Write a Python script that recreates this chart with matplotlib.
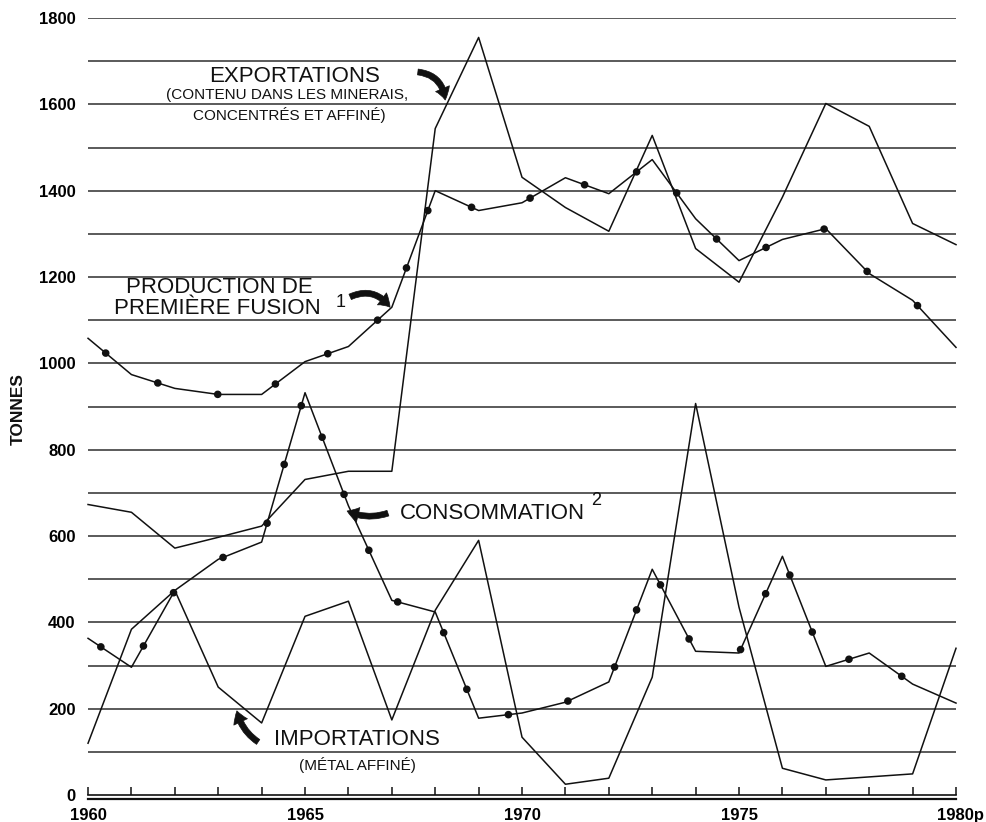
import matplotlib
matplotlib.use("Agg")
import matplotlib.pyplot as plt
import matplotlib.transforms as mtransforms

# Annual values, tonnes
years = list(range(1960, 1981))
exportations = [673, 655, 572, 597, 623, 731, 750, 750, 1544, 1755, 1431,
                1361, 1306, 1528, 1266, 1188, 1385, 1602, 1549, 1324, 1275]
production = [1058, 974, 942, 928, 928, 1004, 1039, 1130, 1400, 1354, 1372,
              1430, 1393, 1472, 1335, 1238, 1287, 1312, 1208, 1146, 1037]
consommation = [363, 296, 474, 546, 586, 932, 670, 451, 424, 178, 190,
                215, 262, 523, 333, 329, 553, 298, 329, 257, 213]
importations = [120, 384, 474, 250, 167, 414, 449, 174, 428, 590, 134,
                25, 39, 273, 907, 435, 62, 35, 42, 49, 340]

xtick_years = [1960, 1965, 1970, 1975, 1980]
xtick_labels = ["1960", "1965", "1970", "1975", "1980p"]
ytick_values = list(range(0, 1801, 200))
grid_values = list(range(100, 1801, 100))

plt.rcParams["font.family"] = ["Liberation Sans", "DejaVu Sans"]
ink = "#111111"

fig = plt.figure(figsize=(9.87, 8.22), dpi=100)
ax = fig.add_axes([0.0892, 0.0328, 0.8794, 0.9453])
ax.set_xlim(1960, 1980)
ax.set_ylim(0, 1800)

# horizontal rules every 100 t
for v in grid_values:
    ax.axhline(v, color="#2e2e2e", lw=1.1, zorder=1)

# plain series
ax.plot(years, exportations, color=ink, lw=1.1, zorder=3, clip_on=False)
ax.plot(years, importations, color=ink, lw=1.1, zorder=3, clip_on=False)

# dotted-line series: solid line plus a round-dot dash pattern on top
for series, off in ((production, 5.0), (consommation, 6.0)):
    ax.plot(years, series, color=ink, lw=1.1, zorder=3, clip_on=False)
    ax.plot(years, series, color=ink, lw=5.5, linestyle=(off, (0.01, 8.0)),
            dash_capstyle="round", zorder=4, clip_on=False)

# axes styling
for side in ("top", "left", "right"):
    ax.spines[side].set_visible(False)
ax.spines["bottom"].set_linewidth(1.2)
ax.spines["bottom"].set_color(ink)
ax.axhline(-9, color=ink, lw=1.6, clip_on=False, zorder=2)

ax.set_xticks(years, minor=True)
ax.set_xticks(xtick_years)
ax.set_xticklabels(xtick_labels, fontweight="bold")
ax.tick_params(axis="x", which="both", direction="in", length=6, width=1.1,
               color=ink, pad=9, labelsize=12)
ax.set_yticks(ytick_values)
ax.set_yticklabels([str(v) for v in ytick_values], fontweight="bold")
ax.tick_params(axis="y", length=0, pad=9, labelsize=12)

last = ax.get_xticklabels()[-1]
last.set_transform(last.get_transform()
                   + mtransforms.ScaledTranslation(0.04, 0, fig.dpi_scale_trans))

fig.text(18 / 987, 1 - 409 / 822, "TONNES", rotation=90, ha="center",
         va="center", fontsize=12.5, fontweight="bold", color=ink)

# series labels
kw = dict(ha="center", va="baseline", color=ink)
ax.text(1964.75, 1652, "EXPORTATIONS", fontsize=16, **kw)
ax.text(1964.59, 1612, "(CONTENU DANS LES MINERAIS,", fontsize=11, **kw)
ax.text(1964.63, 1564, "CONCENTRÉS ET AFFINÉ)", fontsize=11, **kw)
ax.text(1963.02, 1164, "PRODUCTION DE", fontsize=16, **kw)
ax.text(1962.97, 1114, "PREMIÈRE FUSION", fontsize=16, **kw)
ax.text(1965.83, 1130, "1", fontsize=13, **kw)
ax.text(1969.31, 639, "CONSOMMATION", fontsize=16, **kw)
ax.text(1971.71, 672, "2", fontsize=13, **kw)
ax.text(1966.20, 116, "IMPORTATIONS", fontsize=16, **kw)
ax.text(1966.20, 58, "(MÉTAL AFFINÉ)", fontsize=11, **kw)


def pointer(tail, head, rad):
    ax.annotate("", xy=head, xytext=tail,
                arrowprops=dict(arrowstyle="simple,head_length=0.7,head_width=0.9,tail_width=0.35",
                                connectionstyle=f"arc3,rad={rad}", fc=ink, ec=ink,
                                lw=0.5, shrinkA=0, shrinkB=0, mutation_scale=12))


pointer((1967.60, 1675), (1968.23, 1610), -0.4)
pointer((1966.04, 1154), (1966.96, 1130), -0.4)
pointer((1966.91, 653), (1965.97, 658), -0.2)
pointer((1963.92, 123), (1963.43, 195), -0.2)

fig.savefig("out.png", dpi=100, facecolor="white")
